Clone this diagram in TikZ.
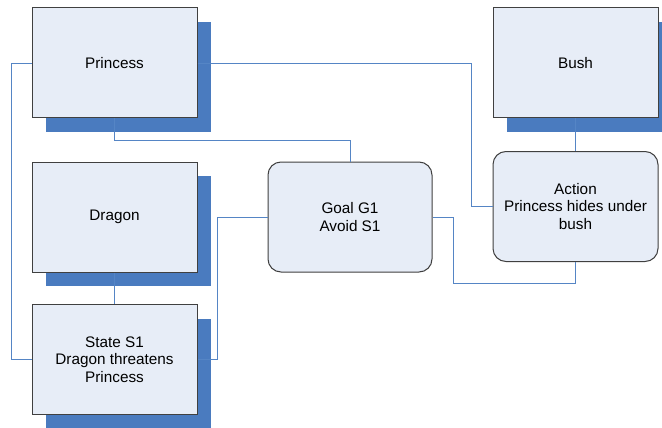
\documentclass[tikz,border=0pt]{standalone}
\usepackage{fontspec}
\setmainfont{Liberation Sans}
\usetikzlibrary{shadows}
\definecolor{boxfill}{HTML}{E7EDF7}
\definecolor{boxedge}{HTML}{404040}
\definecolor{shade}{HTML}{4A7BBF}
\definecolor{link}{HTML}{5585C5}
\tikzset{
  entity/.style={draw=boxedge, line width=1pt, fill=boxfill,
    minimum width=165pt, minimum height=110pt, inner sep=2pt,
    align=center, font=\fontsize{15.3}{17.4}\selectfont,
    copy shadow={shadow xshift=13.5pt, shadow yshift=-14pt, fill=shade, draw=none}},
  event/.style={draw=boxedge, line width=1pt, fill=boxfill, rounded corners=13pt,
    minimum width=164pt, minimum height=110pt, inner sep=2pt,
    align=center, font=\fontsize{15.3}{17.4}\selectfont},
  wire/.style={draw=link, line width=0.8pt}
}
\begin{document}
\begin{tikzpicture}[x=1pt, y=-1pt]
  \clip (0,0) rectangle (662,428);
  \fill[white] (0,0) rectangle (662,428);

  % story elements
  \node[entity] (P) at (114.5,63) {Princess};
  \node[entity] (D) at (114.5,217) {Dragon};
  \node[entity] (S) at (114.5,359.5) {State S1\\Dragon threatens\\Princess};
  \node[entity] (B) at (575.5,63) {Bush};

  % goal and action
  \node[event] (G) at (350,217) {Goal G1\\Avoid S1};
  \node[event, minimum width=165pt] (A) at (575.5,206.5) {Action\\Princess hides under\\bush};

  % links
  \draw[wire] (P.west) -- ++(-20,0) |- (S.west);
  \draw[wire] (P.east) -| ([xshift=-21pt]A.west) -- (A.west);
  \draw[wire] (P.south) |- ([yshift=21pt]G.north) -- (G.north);
  \draw[wire] (G.west) -| ([xshift=20pt]S.east) -- (S.east);
  \draw[wire] (G.east) -- ++(21,0) |- ([yshift=-21pt]A.south) -- (A.south);
  \draw[wire] (B.south) -- (A.north);
  \draw[wire] (D.south) -- (S.north);
\end{tikzpicture}
\end{document}
